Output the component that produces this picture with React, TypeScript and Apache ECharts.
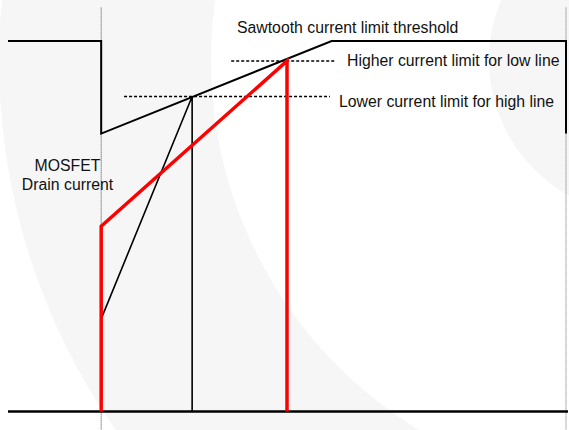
import React, { useEffect, useRef } from "react";
import * as echarts from "echarts";

// Abstract units: time (0..100) on x, current (0..100) on y
const thresholdT = [0, 16.7, 16.7, 58, 100, 100];
const thresholdI = [100, 100, 75, 100, 100, 75];

const highLineT = [16.7, 33, 33];
const highLineI = [25, 85, 0];

const lowLineT = [16.7, 16.7, 50, 50];
const lowLineI = [0, 50, 94.6, 0];

const higherLimitT = [40, 58.8];
const higherLimitI = [94.6, 94.6];
const lowerLimitT = [20.8, 57.7];
const lowerLimitI = [85, 85];

const baselineT = [0, 101];
const baselineI = [0, 0];

const markerT = [16.7, 100];
const markerI = [109, -5];

const labels = [
  "Sawtooth current limit threshold",
  "Higher current limit for low line",
  "Lower current limit for high line",
  "MOSFET",
  "Drain current",
];

const zip = (xs: number[], ys: number[]) => xs.map((x, i) => [x, ys[i]]);

export default function App() {
  const ref = useRef<HTMLDivElement>(null);
  useEffect(() => {
    const chart = echarts.init(ref.current!, undefined, { renderer: "svg" });
    const font = "'Liberation Sans', Arial, sans-serif";
    const txt = (text: string, x: number, y: number, align = "left") => ({
      type: "text",
      x,
      y,
      silent: true,
      z: 10,
      style: {
        text,
        fontSize: 15.8,
        fontFamily: font,
        fill: "#111",
        textAlign: align,
        align,
        textVerticalAlign: "middle",
        verticalAlign: "middle",
      },
    });
    const line = (data: number[][], color: string, width: number, type: any = "solid", z = 2) => ({
      type: "line",
      data,
      symbol: "none",
      clip: false,
      silent: true,
      z,
      lineStyle: { color, width, type, cap: "butt", join: "miter" },
    });
    chart.setOption({
      animation: false,
      backgroundColor: "#ffffff",
      grid: { left: 8, width: 558, top: 3.9, height: 426.65 },
      xAxis: { type: "value", min: 0, max: 100, show: false },
      yAxis: { type: "value", min: -5, max: 110, show: false },
      graphic: [
        {
          type: "ring",
          silent: true,
          z: -10,
          shape: { cx: 644, cy: 60, r: 645, r0: 433 },
          style: { fill: "#f6f6f6" },
        },
        {
          type: "circle",
          silent: true,
          z: -10,
          shape: { cx: 644, cy: 60, r: 155 },
          style: { fill: "#f6f6f6" },
        },
        txt(labels[0], 237, 27.5),
        txt(labels[1], 347, 60),
        txt(labels[2], 339, 101),
        txt(labels[3], 67.5, 165.5, "center"),
        txt(labels[4], 67.5, 184.5, "center"),
      ],
      series: [
        line([[markerT[0], markerI[0]], [markerT[0], markerI[1]]], "#444", 1, [1, 1], 1),
        line([[markerT[1], markerI[0]], [markerT[1], markerI[1]]], "#666", 1, [1, 1], 1),
        line(zip(baselineT, baselineI), "#000", 2.5),
        line(zip(thresholdT, thresholdI), "#000", 2),
        line(zip(higherLimitT, higherLimitI), "#000", 1.5, [3, 2]),
        line(zip(lowerLimitT, lowerLimitI), "#000", 1.5, [3, 2]),
        line(zip(highLineT, highLineI), "#000", 1.6),
        line(zip(lowLineT, lowLineI), "#ff0000", 3.5, "solid", 3),
      ],
    });
    return () => chart.dispose();
  }, []);
  return (
    <div
      ref={ref}
      style={{ position: "fixed", left: 0, top: 0, width: 569, height: 430 }}
    />
  );
}
